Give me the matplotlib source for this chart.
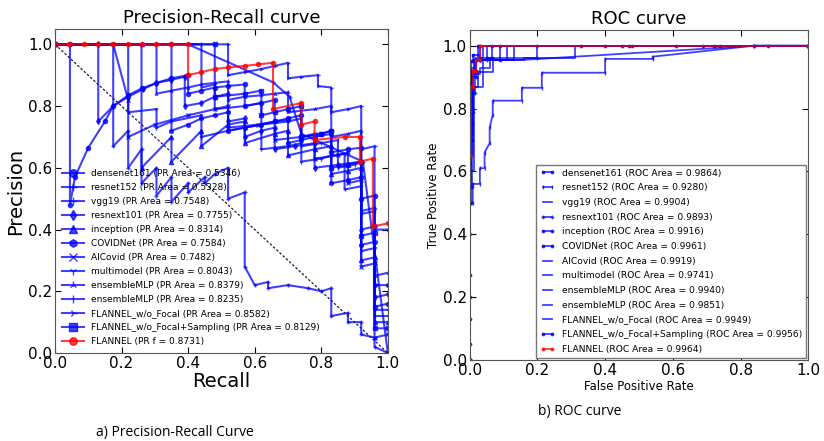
import matplotlib
matplotlib.use("Agg")
import matplotlib.pyplot as plt

# ---------------- data ----------------
modelos = ["densenet161", "resnet152", "vgg19", "resnext101", "inception",
           "COVIDNet", "AICovid", "multimodel", "ensembleMLP", "ensembleMLP",
           "FLANNEL_w/o_Focal", "FLANNEL_w/o_Focal+Sampling", "FLANNEL"]
pr_area = ["0.5346", "0.5328", "0.7548", "0.7755", "0.8314", "0.7584", "0.7482",
           "0.8043", "0.8379", "0.8235", "0.8582", "0.8129", "0.8731"]
roc_area = ["0.9864", "0.9280", "0.9904", "0.9893", "0.9916", "0.9961", "0.9919",
            "0.9741", "0.9940", "0.9851", "0.9949", "0.9956", "0.9964"]

# Precision-Recall (recall, precision)
pr_recall = [
    [0.0, 0.045, 0.045, 0.06, 0.10, 0.15, 0.175, 0.22, 0.26, 0.305, 0.35, 0.40, 0.40, 0.44, 0.48, 0.52, 0.57, 0.57,
     0.62, 0.66, 0.66, 0.70, 0.74, 0.74, 0.80, 0.83, 0.83, 0.88, 0.92, 0.92, 0.96, 0.96, 1.0],
    [0.0, 0.175, 0.175, 0.22, 0.22, 0.26, 0.26, 0.305, 0.305, 0.35, 0.35, 0.40, 0.40, 0.45, 0.45, 0.48, 0.52, 0.52,
     0.57, 0.57, 0.60, 0.64, 0.64, 0.70, 0.76, 0.80, 0.83, 0.83, 0.88, 0.88, 0.92, 0.92, 0.96, 0.96, 1.0],
    [0.0, 0.40, 0.655, 0.705, 0.74, 0.925, 1.0],
    [0.0, 0.13, 0.13, 0.175, 0.22, 0.265, 0.305, 0.35, 0.39, 0.39, 0.44, 0.48, 0.52, 0.52, 0.57, 0.57, 0.62, 0.66,
     0.66, 0.72, 0.78, 0.78, 0.85, 0.92, 0.92, 0.96, 0.96, 1.0],
    [0.0, 0.26, 0.26, 0.35, 0.35, 0.44, 0.44, 0.52, 0.57, 0.57, 0.66, 0.70, 0.70, 0.78, 0.83, 0.83, 0.88, 0.92,
     0.92, 0.96, 0.96, 1.0],
    [0.0, 0.35, 0.35, 0.40, 0.44, 0.48, 0.52, 0.52, 0.57, 0.62, 0.66, 0.70, 0.70, 0.74, 0.78, 0.83, 0.83, 0.88,
     0.92, 0.92, 0.96, 0.96, 1.0],
    [0.0, 0.175, 0.22, 0.22, 0.30, 0.40, 0.48, 0.52, 0.52, 0.61, 0.66, 0.66, 0.74, 0.78, 0.78, 0.85, 0.88, 0.88,
     0.92, 0.92, 0.96, 0.96, 1.0],
    [0.0, 0.22, 0.22, 0.305, 0.305, 0.35, 0.44, 0.44, 0.52, 0.57, 0.62, 0.62, 0.70, 0.74, 0.74, 0.80, 0.83, 0.87,
     0.87, 0.92, 0.92, 0.96, 0.96, 1.0],
    [0.0, 0.305, 0.305, 0.35, 0.40, 0.44, 0.48, 0.52, 0.52, 0.57, 0.62, 0.66, 0.70, 0.70, 0.78, 0.83, 0.83, 0.88,
     0.92, 0.92, 0.96, 0.96, 1.0],
    [0.0, 0.44, 0.44, 0.48, 0.48, 0.57, 0.62, 0.62, 0.70, 0.74, 0.74, 0.80, 0.85, 0.85, 0.90, 0.92, 0.92, 0.96,
     0.96, 1.0],
    [0.0, 0.52, 0.52, 0.57, 0.62, 0.66, 0.70, 0.70, 0.74, 0.79, 0.79, 0.83, 0.83, 0.88, 0.92, 0.92, 0.96, 0.96, 1.0],
    [0.0, 0.48, 0.48, 0.57, 0.62, 0.62, 0.66, 0.70, 0.74, 0.74, 0.80, 0.83, 0.83, 0.88, 0.92, 0.92, 0.96, 0.96, 1.0],
    [0.0, 0.043, 0.087, 0.13, 0.175, 0.22, 0.26, 0.305, 0.35, 0.40, 0.40, 0.44, 0.48, 0.52, 0.57, 0.61, 0.655,
     0.655, 0.74, 0.74, 0.78, 0.78, 0.87, 0.916, 0.916, 0.955, 0.955, 1.0],
]
pr_precision = [
    [1.0, 1.0, 0.48, 0.57, 0.665, 0.75, 0.80, 0.835, 0.857, 0.875, 0.89, 0.90, 0.84, 0.85, 0.86, 0.865, 0.87, 0.80,
     0.81, 0.82, 0.75, 0.76, 0.77, 0.70, 0.71, 0.72, 0.65, 0.66, 0.665, 0.50, 0.51, 0.15, 0.16],
    [1.0, 1.0, 0.67, 0.72, 0.60, 0.66, 0.55, 0.60, 0.51, 0.57, 0.49, 0.55, 0.52, 0.57, 0.55, 0.58, 0.60, 0.50,
     0.52, 0.28, 0.22, 0.23, 0.21, 0.22, 0.21, 0.20, 0.21, 0.12, 0.13, 0.10, 0.10, 0.06, 0.05, 0.02, 0.0],
    [1.0, 1.0, 0.877, 0.83, 0.71, 0.62, 0.0],
    [1.0, 1.0, 0.75, 0.80, 0.83, 0.855, 0.875, 0.885, 0.895, 0.80, 0.81, 0.83, 0.84, 0.75, 0.76, 0.70, 0.72, 0.73,
     0.66, 0.67, 0.68, 0.60, 0.61, 0.62, 0.40, 0.41, 0.18, 0.19],
    [1.0, 1.0, 0.60, 0.70, 0.62, 0.72, 0.67, 0.74, 0.75, 0.68, 0.71, 0.72, 0.64, 0.66, 0.67, 0.58, 0.59, 0.60,
     0.30, 0.31, 0.10, 0.10],
    [1.0, 1.0, 0.72, 0.74, 0.76, 0.77, 0.78, 0.72, 0.73, 0.74, 0.75, 0.755, 0.68, 0.69, 0.70, 0.71, 0.55, 0.56,
     0.57, 0.35, 0.36, 0.22, 0.22],
    [1.0, 1.0, 0.82, 0.70, 0.74, 0.77, 0.79, 0.80, 0.73, 0.74, 0.75, 0.69, 0.70, 0.71, 0.63, 0.64, 0.65, 0.55,
     0.56, 0.28, 0.29, 0.05, 0.06],
    [1.0, 1.0, 0.78, 0.79, 0.73, 0.75, 0.77, 0.70, 0.72, 0.73, 0.74, 0.66, 0.67, 0.68, 0.62, 0.63, 0.64, 0.645,
     0.53, 0.54, 0.33, 0.34, 0.14, 0.14],
    [1.0, 1.0, 0.84, 0.85, 0.86, 0.87, 0.875, 0.88, 0.82, 0.83, 0.835, 0.84, 0.845, 0.78, 0.79, 0.80, 0.70, 0.71,
     0.72, 0.46, 0.47, 0.25, 0.26],
    [1.0, 1.0, 0.86, 0.87, 0.79, 0.80, 0.81, 0.74, 0.75, 0.76, 0.67, 0.68, 0.69, 0.60, 0.61, 0.62, 0.45, 0.46,
     0.12, 0.12],
    [1.0, 1.0, 0.90, 0.91, 0.92, 0.93, 0.94, 0.89, 0.895, 0.90, 0.865, 0.86, 0.78, 0.79, 0.80, 0.66, 0.67, 0.40, 0.40],
    [1.0, 1.0, 0.83, 0.84, 0.85, 0.77, 0.78, 0.79, 0.80, 0.70, 0.71, 0.72, 0.60, 0.61, 0.62, 0.38, 0.39, 0.08, 0.08],
    [1.0, 1.0, 1.0, 1.0, 1.0, 1.0, 1.0, 1.0, 1.0, 1.0, 0.90, 0.91, 0.92, 0.925, 0.93, 0.935, 0.94, 0.79, 0.81,
     0.74, 0.75, 0.69, 0.70, 0.70, 0.62, 0.63, 0.41, 0.42],
]
diag_x = [0.0, 1.0]
diag_y = [1.0, 0.0]

# ROC (fpr, tpr)
roc_fpr = [
    [0.0, 0.0, 0.0, 0.0, 0.0, 0.0, 0.005, 0.005, 0.01, 0.01, 0.02, 0.02, 0.03, 0.03, 0.33, 0.40, 0.45, 0.47, 0.48,
     0.61, 0.69, 0.72, 0.74, 0.84, 0.88, 1.0],
    [0.0, 0.0, 0.009, 0.009, 0.03, 0.03, 0.044, 0.044, 0.059, 0.059, 0.068, 0.068, 0.154, 0.154, 0.213, 0.213,
     0.40, 0.40, 0.54, 0.54, 0.84, 1.0],
    [0.0, 0.0, 0.004, 0.004, 0.012, 0.012, 0.16, 0.84, 1.0],
    [0.0, 0.0, 0.006, 0.006, 0.015, 0.015, 0.05, 0.05, 0.2, 0.2, 1.0],
    [0.0, 0.0, 0.008, 0.008, 0.02, 0.02, 0.09, 0.09, 1.0],
    [0.0, 0.0, 0.003, 0.003, 0.01, 0.01, 0.025, 0.025, 1.0],
    [0.0, 0.0, 0.01, 0.01, 0.03, 0.03, 0.06, 0.06, 0.13, 0.13, 1.0],
    [0.0, 0.0, 0.012, 0.012, 0.04, 0.04, 0.16, 0.16, 0.31, 0.31, 1.0],
    [0.0, 0.0, 0.005, 0.005, 0.02, 0.02, 0.05, 0.05, 1.0],
    [0.0, 0.0, 0.01, 0.01, 0.025, 0.025, 0.07, 0.07, 0.11, 0.11, 1.0],
    [0.0, 0.0, 0.004, 0.004, 0.015, 0.015, 0.04, 0.04, 1.0],
    [0.0, 0.0, 0.006, 0.006, 0.018, 0.018, 0.03, 0.03, 0.065, 0.065, 1.0],
    [0.0, 0.0, 0.0, 0.005, 0.005, 0.01, 0.01, 0.02, 0.02, 0.03, 0.03, 1.0],
]
roc_tpr = [
    [0.0, 0.05, 0.13, 0.2, 0.27, 0.50, 0.50, 0.79, 0.79, 0.92, 0.92, 0.955, 0.955, 1.0, 1.0, 1.0, 1.0, 1.0, 1.0,
     1.0, 1.0, 1.0, 1.0, 1.0, 1.0, 1.0],
    [0.0, 0.50, 0.50, 0.56, 0.56, 0.61, 0.61, 0.66, 0.69, 0.74, 0.78, 0.825, 0.825, 0.866, 0.866, 0.914,
     0.914, 0.958, 0.958, 0.965, 1.0, 1.0],
    [0.0, 0.62, 0.62, 0.90, 0.90, 0.955, 0.955, 1.0, 1.0],
    [0.0, 0.55, 0.55, 0.85, 0.85, 0.955, 0.955, 0.96, 0.96, 1.0, 1.0],
    [0.0, 0.70, 0.70, 0.92, 0.92, 0.955, 0.955, 1.0, 1.0],
    [0.0, 0.80, 0.80, 0.95, 0.95, 0.97, 0.97, 1.0, 1.0],
    [0.0, 0.72, 0.72, 0.91, 0.91, 0.93, 0.93, 0.955, 0.955, 1.0, 1.0],
    [0.0, 0.60, 0.60, 0.87, 0.87, 0.955, 0.955, 0.96, 0.96, 1.0, 1.0],
    [0.0, 0.83, 0.83, 0.92, 0.92, 0.955, 0.955, 1.0, 1.0],
    [0.0, 0.65, 0.65, 0.87, 0.87, 0.915, 0.915, 0.955, 0.955, 1.0, 1.0],
    [0.0, 0.85, 0.85, 0.93, 0.93, 0.96, 0.96, 1.0, 1.0],
    [0.0, 0.75, 0.75, 0.90, 0.90, 0.955, 0.955, 0.96, 0.96, 1.0, 1.0],
    [0.0, 0.4, 0.65, 0.65, 0.87, 0.87, 0.92, 0.92, 0.955, 0.955, 1.0, 1.0],
]

# marcadores (PR usa formas distintas, ROC quase tudo '.')
pr_markers = ["o", "+", "+", "d", "^", "h", "x", "1", "2", "|", "4", "s", "o"]
roc_markers = [".", "|", "", "+", ".", ".", "", "", "", "", "", ".", "."]
cores = ["b"] * 12 + ["r"]

fig = plt.figure(figsize=(8.24, 4.41), dpi=100)

# ========== Precision-Recall ==========
ax1 = fig.add_axes([0.0667, 0.1995, 0.404, 0.735])
for i in range(len(modelos)):
    lab = f"{modelos[i]} (PR Area = {pr_area[i]})"
    if modelos[i] == "FLANNEL":
        lab = f"FLANNEL (PR f = {pr_area[i]})"
    ax1.plot(pr_recall[i], pr_precision[i], color=cores[i], marker=pr_markers[i],
             markersize=3, linewidth=1.5, alpha=0.75, label=lab)
ax1.plot(diag_x, diag_y, color="#1a1a50", linestyle="--", linewidth=0.9, dashes=(2, 1.5))
ax1.set_xlim(0, 1)
ax1.set_ylim(0, 1.05)
ax1.set_xticks([0.0, 0.2, 0.4, 0.6, 0.8, 1.0])
ax1.set_yticks([0.0, 0.2, 0.4, 0.6, 0.8, 1.0])
ax1.tick_params(direction="in", top=True, right=True, labelsize=11, length=4, pad=2)
ax1.set_title("Precision-Recall curve", fontsize=13, pad=4)
ax1.set_xlabel("Recall", fontsize=14, labelpad=1)
ax1.set_ylabel("Precision", fontsize=14, labelpad=2)
for s in ax1.spines.values():
    s.set_color("#555555")
ax1.legend(loc="lower left", fontsize=6.5, frameon=False, numpoints=1, markerscale=1.8,
           handlelength=2.4, labelspacing=0.55, borderaxespad=0.4, handletextpad=0.8)

# ========== ROC ==========
ax2 = fig.add_axes([0.570, 0.184, 0.411, 0.748])
for i in range(len(modelos)):
    ax2.plot(roc_fpr[i], roc_tpr[i], color=cores[i], marker=roc_markers[i] or None,
             markersize=3.5, linewidth=1.3, alpha=0.75,
             label=f"{modelos[i]} (ROC Area = {roc_area[i]})")
ax2.set_xlim(0, 1)
ax2.set_ylim(0, 1.05)
ax2.set_xticks([0.0, 0.2, 0.4, 0.6, 0.8, 1.0])
ax2.set_yticks([0.0, 0.2, 0.4, 0.6, 0.8, 1.0])
ax2.tick_params(direction="in", top=True, right=True, labelsize=11, length=4, pad=2)
ax2.set_title("ROC curve", fontsize=13, pad=4)
ax2.set_xlabel("False Positive Rate", fontsize=8.5, labelpad=2)
ax2.set_ylabel("True Positive Rate", fontsize=8.5, labelpad=2)
for s in ax2.spines.values():
    s.set_color("#555555")
leg2 = ax2.legend(loc="lower right", fontsize=6.6, numpoints=2, handlelength=1.6,
                  labelspacing=0.62, borderaxespad=0.25, handletextpad=0.8,
                  fancybox=False, framealpha=1)
leg2.get_frame().set_edgecolor("#777777")

# legendas das figuras
fig.text(0.212, 0.012, "a) Precision-Recall Curve", fontsize=10, ha="center",
         family="Open Sans")
fig.text(0.703, 0.058, "b) ROC curve", fontsize=10, ha="center", family="Open Sans")

fig.savefig("out.png", dpi=100)
